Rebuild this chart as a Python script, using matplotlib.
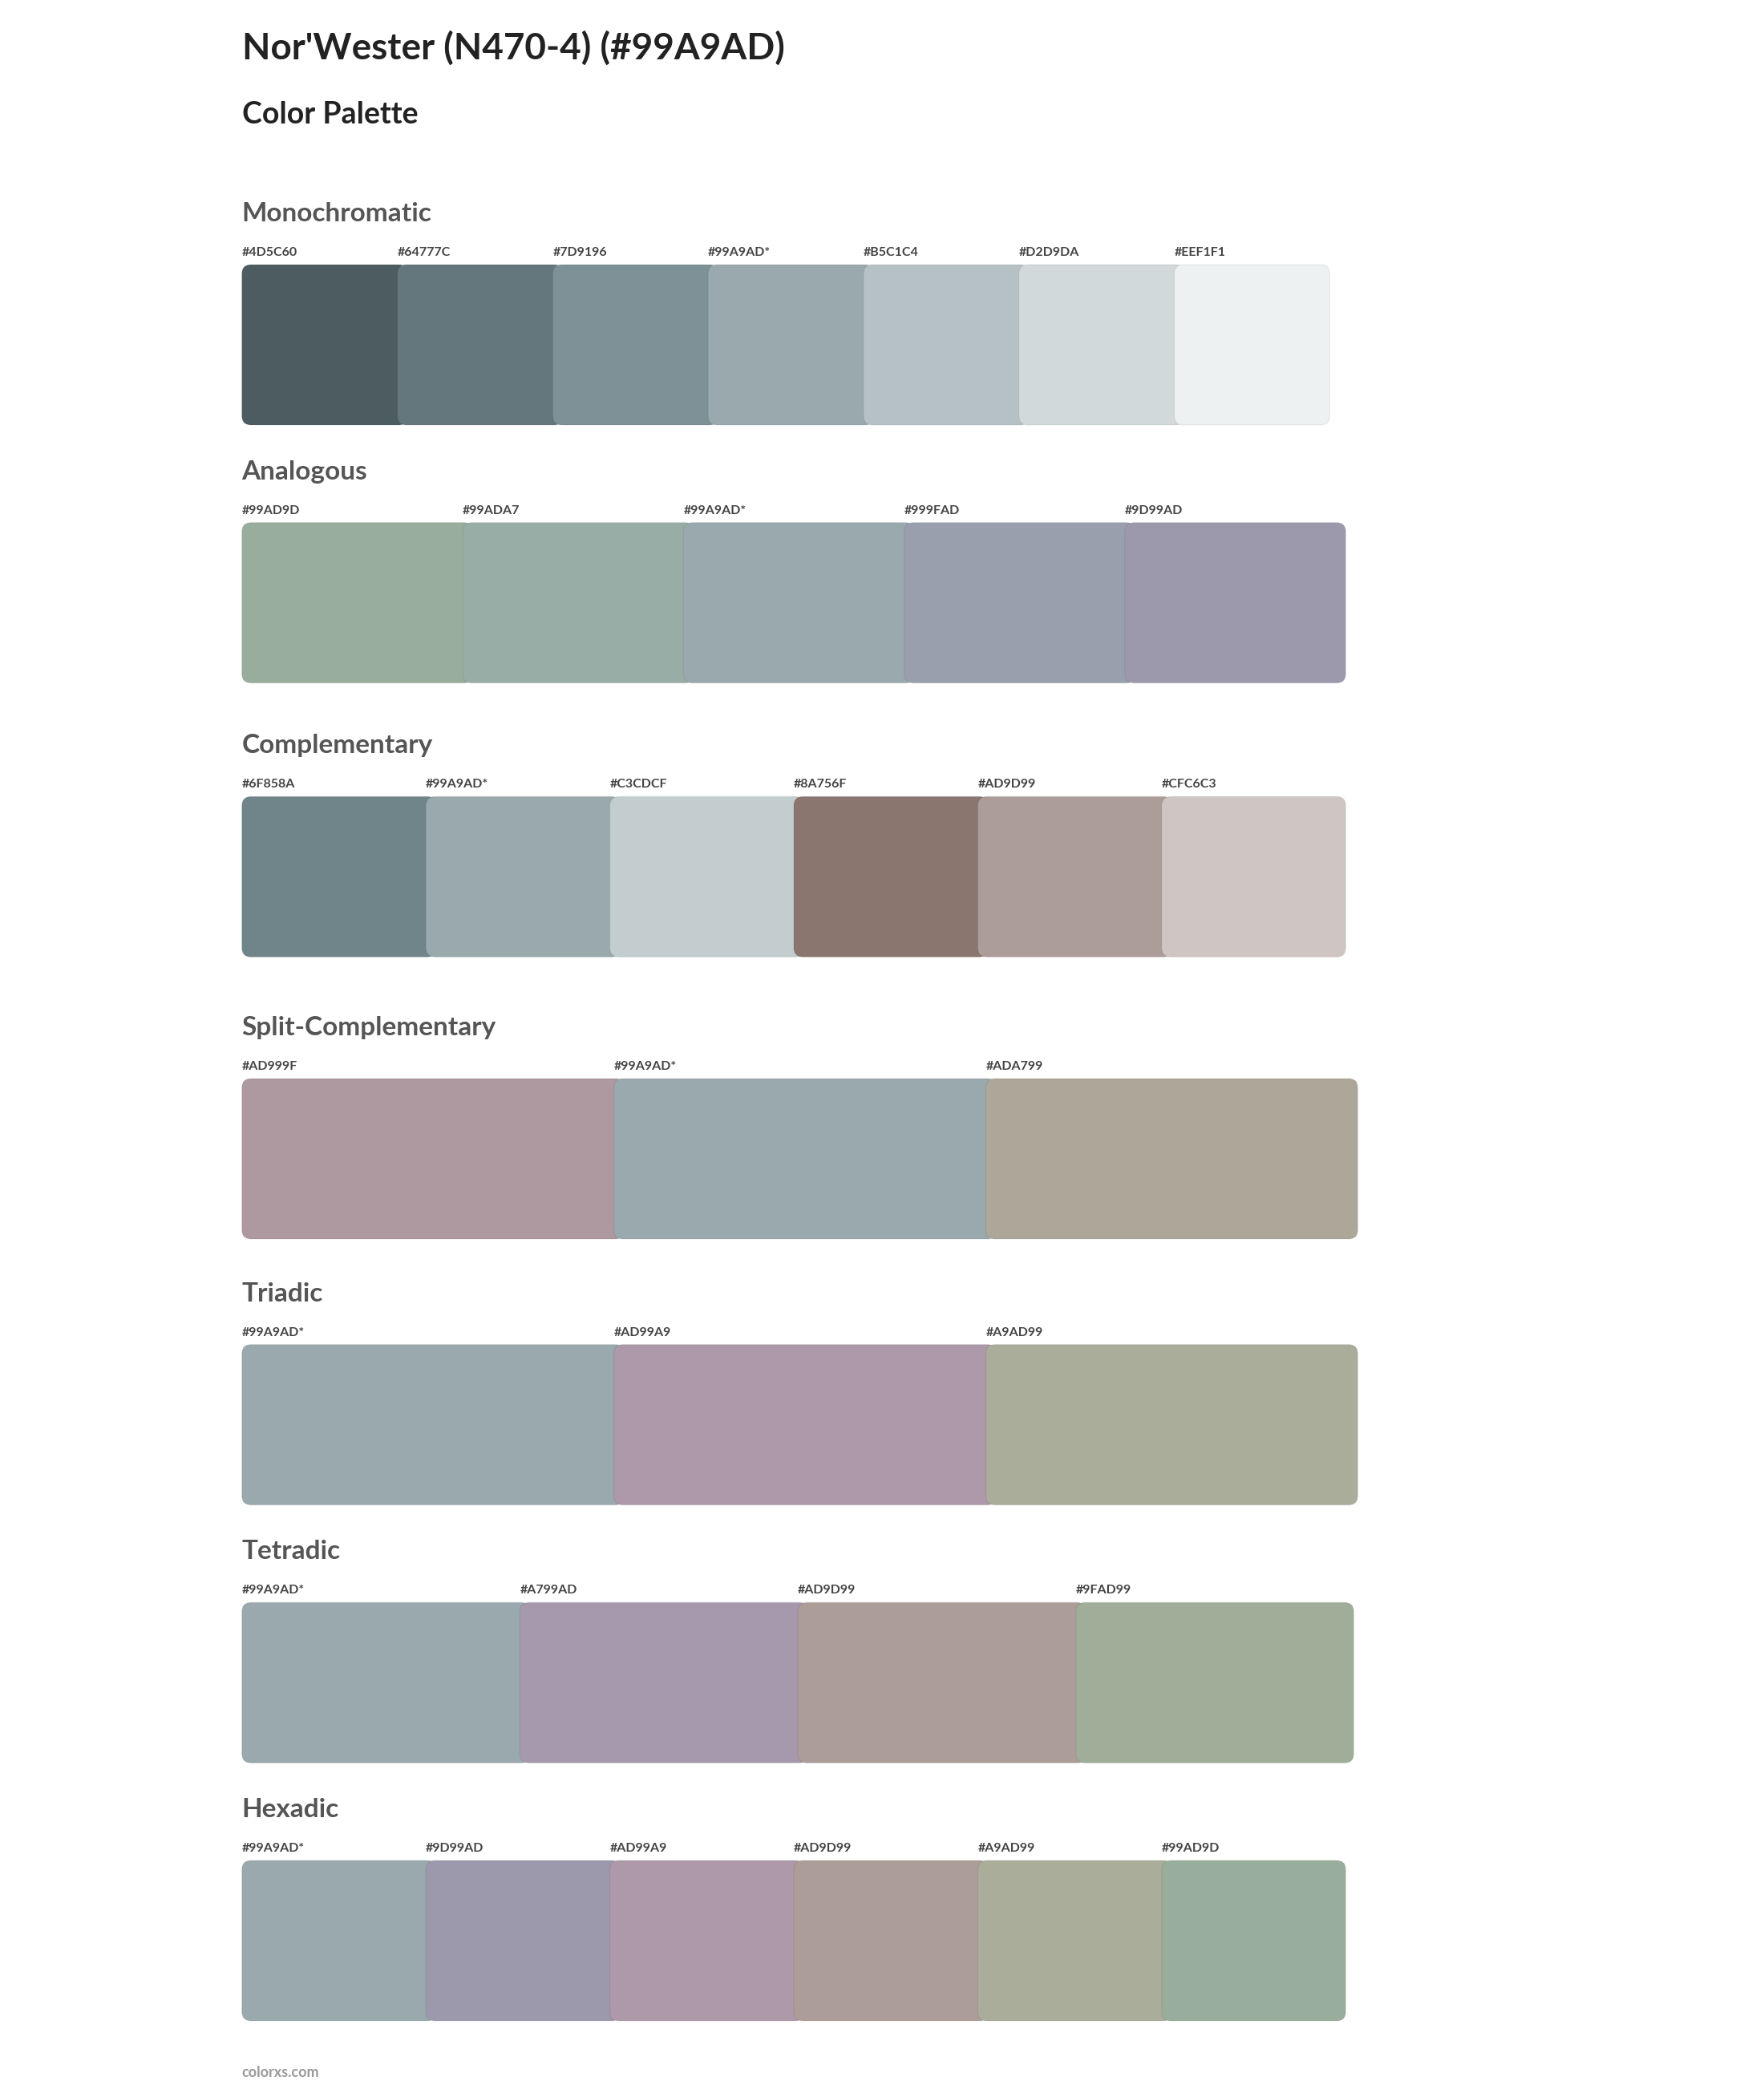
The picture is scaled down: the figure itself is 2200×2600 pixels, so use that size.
import matplotlib.pyplot as plt
from matplotlib.patches import FancyBboxPatch

plt.rcParams['font.family'] = ['Lato', 'DejaVu Sans']

title = "Nor'Wester (N470-4) (#99A9AD)"
subtitle = "Color Palette"

section_names = ['Monochromatic', 'Analogous', 'Complementary', 'Split-Complementary',
                 'Triadic', 'Tetradic', 'Hexadic']
mono = ['#4D5C60', '#64777C', '#7D9196', '#99A9AD*', '#B5C1C4', '#D2D9DA', '#EEF1F1']
analog = ['#99AD9D', '#99ADA7', '#99A9AD*', '#999FAD', '#9D99AD']
compl = ['#6F858A', '#99A9AD*', '#C3CDCF', '#8A756F', '#AD9D99', '#CFC6C3']
split = ['#AD999F', '#99A9AD*', '#ADA799']
triad = ['#99A9AD*', '#AD99A9', '#A9AD99']
tetra = ['#99A9AD*', '#A799AD', '#AD9D99', '#9FAD99']
hexa = ['#99A9AD*', '#9D99AD', '#AD99A9', '#AD9D99', '#A9AD99', '#99AD9D']
palettes = [mono, analog, compl, split, triad, tetra, hexa]

# layout in 1320x1560 reference units
header_y = [160, 353, 558, 769, 968, 1161, 1354]
right_x = [995, 1007, 1007, 1016, 1016, 1013, 1007]
left_x = 181
sw_h = 120

fig = plt.figure(figsize=(22, 26), dpi=100)
ax = fig.add_axes([0, 0, 1, 1])
ax.set_xlim(0, 1320)
ax.set_ylim(1560, 0)
ax.axis('off')

ax.text(left_x, 36, title, fontsize=33, fontweight='bold', color='#222222', va='center')
ax.text(left_x, 86, subtitle, fontsize=27, fontweight='bold', color='#222222', va='center')

for name, pal, hy, rx in zip(section_names, palettes, header_y, right_x):
    ax.text(left_x, hy, name, fontsize=24, fontweight='bold', color='#555555', va='center')
    n = len(pal)
    w = (rx - left_x) / n
    top = hy + 38
    for i, c in enumerate(pal):
        x0 = left_x + i * w
        col = c.rstrip('*')
        extra = 8 if i < n - 1 else 0
        p = FancyBboxPatch((x0, top), w + extra, sw_h,
                           boxstyle='round,pad=0,rounding_size=7',
                           facecolor=col, edgecolor=(0, 0, 0, 0.06), linewidth=1,
                           zorder=2 + i)
        ax.add_patch(p)
        ax.text(x0, hy + 29, c, fontsize=11.5, fontweight='bold', color='#444444', va='center')

ax.text(left_x, 1551, 'colorxs.com', fontsize=13, fontweight='bold', color='#999999', va='center')

fig.savefig('out.png', dpi=100, facecolor='white')
